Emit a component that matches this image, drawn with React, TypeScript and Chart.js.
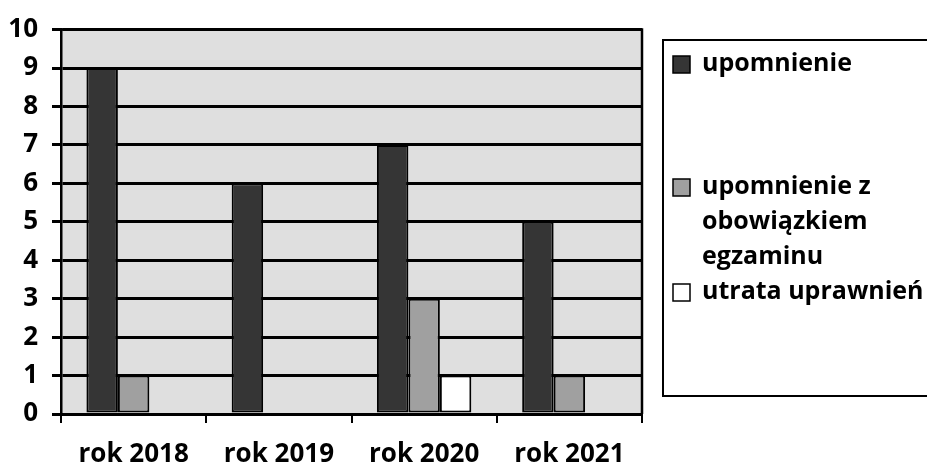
import React, { useEffect, useRef } from "react";
import { Chart, registerables } from "chart.js";

Chart.register(...registerables);

const categories = ["rok 2018", "rok 2019", "rok 2020", "rok 2021"];
const upomnienie = [9, 6, 7, 5];
const upomnienieZEgzaminem = [1, 0, 3, 1];
const utrataUprawnien = [0, 0, 1, 0];
const seriesLabels = ["upomnienie", "upomnienie z obowiązkiem egzaminu", "utrata uprawnień"];
const seriesColors = ["#353535", "#a0a0a0", "#ffffff"];

const W = 927;
const H = 473;
const FONT = "'Open Sans', 'DejaVu Sans', sans-serif";

const plotBg = {
  id: "plotBg",
  beforeDraw(chart: any) {
    const { ctx, chartArea: a } = chart;
    ctx.save();
    ctx.fillStyle = "#dfdfdf";
    ctx.fillRect(a.left, a.top, a.right - a.left, a.bottom - a.top);
    ctx.restore();
  },
  afterDraw(chart: any) {
    const { ctx, chartArea: a } = chart;
    ctx.save();
    ctx.strokeStyle = "#000";
    ctx.lineWidth = 2.5;
    ctx.beginPath();
    ctx.moveTo(a.left, a.top);
    ctx.lineTo(a.right, a.top);
    ctx.lineTo(a.right, a.bottom);
    ctx.stroke();
    ctx.restore();
  },
};

function wrap(ctx: CanvasRenderingContext2D, text: string, maxW: number): string[] {
  const words = text.split(" ");
  const lines: string[] = [];
  let cur = "";
  for (const w of words) {
    const t = cur ? cur + " " + w : w;
    if (ctx.measureText(t).width > maxW && cur) {
      lines.push(cur);
      cur = w;
    } else cur = t;
  }
  if (cur) lines.push(cur);
  return lines;
}

const legendBox = {
  id: "legendBox",
  afterDraw(chart: any) {
    const { ctx } = chart;
    ctx.save();
    ctx.strokeStyle = "#000";
    ctx.lineWidth = 2;
    ctx.strokeRect(663, 40, 300, 356);
    ctx.font = `bold 25px ${FONT}`;
    ctx.textBaseline = "middle";
    ctx.textAlign = "left";
    const starts = [64, 187, 292];
    const lineH = 35;
    chart.data.datasets.forEach((ds: any, i: number) => {
      const y0 = starts[i];
      ctx.fillStyle = ds.backgroundColor;
      ctx.fillRect(673, y0 - 8, 17, 17);
      ctx.lineWidth = 1.5;
      ctx.strokeStyle = "#000";
      ctx.strokeRect(673, y0 - 8, 17, 17);
      ctx.fillStyle = "#000";
      const lines = wrap(ctx, ds.label, 222);
      lines.forEach((l, k) => ctx.fillText(l, 702, y0 + k * lineH));
    });
    ctx.restore();
  },
};

export default function App() {
  const ref = useRef<HTMLCanvasElement>(null);
  useEffect(() => {
    if (!ref.current) return;
    const bw = (c: any) => (c.raw === 0 ? 0 : 2);
    const chart = new Chart(ref.current, {
      type: "bar",
      data: {
        labels: categories,
        datasets: [
          { label: seriesLabels[0], data: upomnienie, backgroundColor: seriesColors[0], borderColor: "#000", borderWidth: bw, borderSkipped: false },
          { label: seriesLabels[1], data: upomnienieZEgzaminem, backgroundColor: seriesColors[1], borderColor: "#000", borderWidth: bw, borderSkipped: false },
          { label: seriesLabels[2], data: utrataUprawnien, backgroundColor: seriesColors[2], borderColor: "#000", borderWidth: bw, borderSkipped: false },
        ],
      },
      options: {
        responsive: false,
        animation: false,
        devicePixelRatio: 1,
        layout: { padding: { left: 0, top: 24, right: W - 642, bottom: 0 } },
        plugins: { legend: { display: false }, tooltip: { enabled: false } },
        datasets: { bar: { categoryPercentage: 0.65, barPercentage: 1 } },
        scales: {
          x: {
            offset: true,
            afterFit: (s: any) => { s.height = 59; },
            grid: { offset: true, drawOnChartArea: false, tickLength: 9, color: "#000", lineWidth: 2 },
            border: { display: true, color: "#000", width: 3 },
            ticks: { color: "#000", padding: 16, font: { family: FONT, size: 26, weight: "bold" } },
          },
          y: {
            min: 0,
            max: 10,
            afterFit: (s: any) => { s.width = 61; },
            grid: { color: "#000", lineWidth: 3, tickLength: 9 },
            border: { display: true, color: "#000", width: 2.5 },
            ticks: { stepSize: 1, color: "#000", padding: 14, font: { family: FONT, size: 26, weight: "bold" } },
          },
        },
      },
      plugins: [plotBg, legendBox],
    });
    return () => chart.destroy();
  }, []);
  return (
    <div style={{ position: "fixed", left: 0, top: 0, width: W, height: H, background: "#fff" }}>
      <canvas ref={ref} width={W} height={H} style={{ width: W, height: H, display: "block" }} />
    </div>
  );
}
